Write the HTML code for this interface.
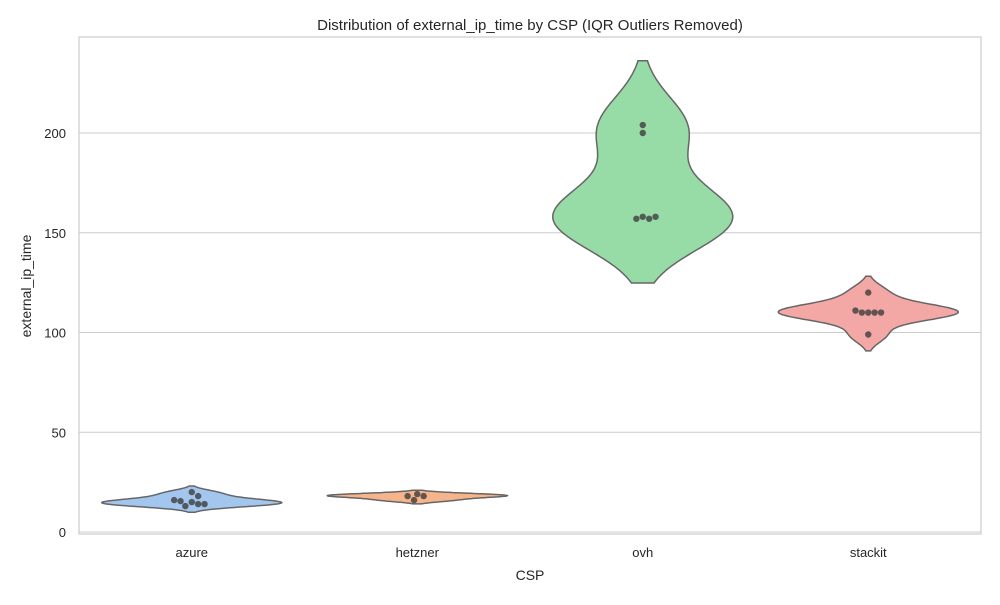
<!DOCTYPE html>
<html><head><meta charset="utf-8"><style>
body{margin:0;background:#fff;font-family:"Liberation Sans","DejaVu Sans",sans-serif;}
svg text{font-family:"Liberation Sans","DejaVu Sans",sans-serif;fill:#262626;}
</style></head><body>
<svg id="chart" width="1000" height="600"></svg>
<script>
const categories = ["azure","hetzner","ovh","stackit"];
const azureValues = [20,18,15,14,13,14,15.5,16];
const hetznerValues = [19,18,16,18];
const ovhValues = [204,200,158,157,157,158];
const stackitValues = [120,110,110,110,110,111,99];
const yTicks = [0,50,100,150,200];
const colors = ["#a3c6ee","#f6b48c","#97dba6","#f4a8a5"];

const series = [azureValues,hetznerValues,ovhValues,stackitValues];
const NS="http://www.w3.org/2000/svg";
const svg=document.getElementById('chart');
const L=79,R=981,T=37,B=534;
const y0px=532, pxPer=1.995;
const ys=v=>y0px-v*pxPer;
const band=(R-L)/categories.length;
const xc=i=>L+band*(i+0.5);
function mk(tag,attrs,parent){const e=document.createElementNS(NS,tag);for(const k in attrs)e.setAttribute(k,attrs[k]);(parent||svg).appendChild(e);return e;}

yTicks.forEach(t=>{
  const g=mk('line',{x1:L,x2:R,y1:ys(t),y2:ys(t),stroke:'#cccccc','stroke-width':1});
  
  
  const tx=mk('text',{x:66,y:ys(t)+5,'text-anchor':'end','font-size':13});
  tx.textContent=t;
  
  
});
const fr=mk('rect',{x:L,y:T,width:R-L,height:B-T,fill:'none',stroke:'#cccccc','stroke-width':1.2});



function kde(vals){
  const n=vals.length,m=vals.reduce((a,b)=>a+b,0)/n;
  const sd=Math.sqrt(vals.reduce((a,b)=>a+(b-m)*(b-m),0)/(n-1));
  const bw=sd*Math.pow(n,-0.2);
  const lo=Math.min(...vals)-2*bw,hi=Math.max(...vals)+2*bw;
  const pts=[];const N=120;
  for(let k=0;k<=N;k++){const v=lo+(hi-lo)*k/N;let d=0;vals.forEach(x=>{d+=Math.exp(-0.5*((v-x)/bw)**2);});pts.push([v,d]);}
  const mx=Math.max(...pts.map(p=>p[1]));
  return pts.map(p=>[p[0],p[1]/mx]);
}
const halfW=90;
series.forEach((vals,i)=>{
  const pts=kde(vals);const cx=xc(i);
  let d='M'+pts.map(p=>(cx+p[1]*halfW).toFixed(1)+','+ys(p[0]).toFixed(1)).join('L');
  d+='L'+pts.slice().reverse().map(p=>(cx-p[1]*halfW).toFixed(1)+','+ys(p[0]).toFixed(1)).join('L')+'Z';
  const p=mk('path',{d:d,fill:colors[i],stroke:'#666666','stroke-width':1.5});
  
  
  const r=3.2,placed=[];
  vals.forEach((v,j)=>{
    const y=ys(v);let best=0;
    for(let k=0;k<40;k++){
      const off=(k%2?1:-1)*Math.ceil(k/2)*0.5*r;
      if(placed.every(q=>Math.hypot(q[0]-off,q[1]-y)>=2*r)){best=off;break;}
    }
    placed.push([best,y]);
    const c=mk('circle',{cx:cx+best,cy:y,r:r,fill:'#3d3d3d','fill-opacity':0.8});
    
    
  });
  const tl=mk('text',{x:cx,y:557,'text-anchor':'middle','font-size':13});
  tl.textContent=categories[i];
  
  
});
const title=mk('text',{x:530,y:30,'text-anchor':'middle','font-size':15});
title.textContent='Distribution of external_ip_time by CSP (IQR Outliers Removed)';


const xl=mk('text',{x:530,y:580,'text-anchor':'middle','font-size':14});
xl.textContent='CSP';


const yl=mk('text',{x:31,y:286,'text-anchor':'middle','font-size':14,transform:'rotate(-90 31 286)'});
yl.textContent='external_ip_time';


</script>
</body></html>
